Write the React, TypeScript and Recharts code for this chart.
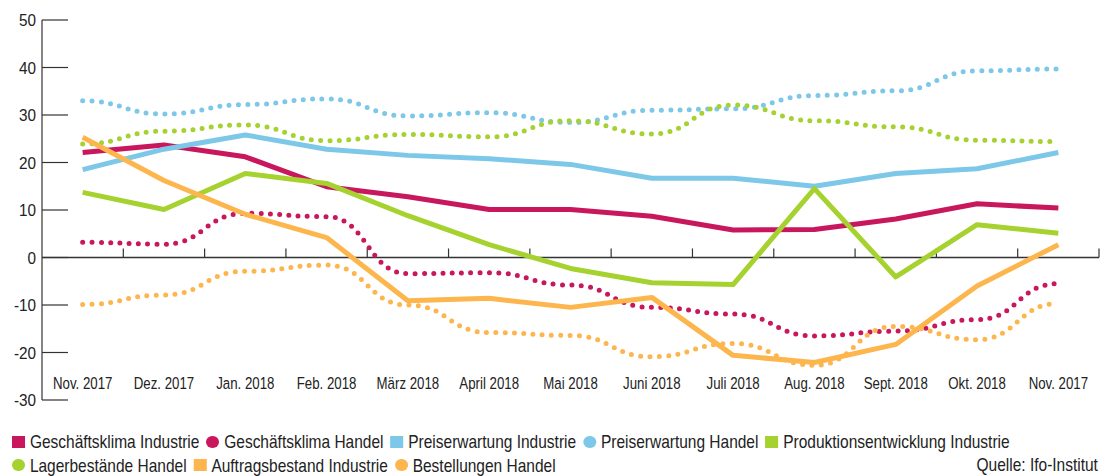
import React from "react";
import { LineChart, Line, XAxis, YAxis, ReferenceLine } from "recharts";

const months = [
  "Nov. 2017", "Dez. 2017", "Jan. 2018", "Feb. 2018", "März 2018", "April 2018", "Mai 2018",
  "Juni 2018", "Juli 2018", "Aug. 2018", "Sept. 2018", "Okt. 2018", "Nov. 2017",
];
const yTicks = [-30, -20, -10, 0, 10, 20, 30, 40, 50];

const geschaeftsklimaIndustrie = [22.1, 23.7, 21.2, 14.9, 12.8, 10.1, 10.1, 8.7, 5.8, 5.9, 8.1, 11.3, 10.4];
const geschaeftsklimaHandel = [3.2, 2.8, 9.3, 8.6, -3.4, -3.2, -5.8, -10.5, -11.9, -16.5, -15.5, -13.1, -5.5];
const preiserwartungIndustrie = [18.5, 22.8, 25.8, 22.8, 21.5, 20.8, 19.6, 16.7, 16.7, 15.0, 17.7, 18.7, 22.1];
const preiserwartungHandel = [33.0, 30.2, 32.2, 33.4, 29.8, 30.5, 28.4, 31.0, 31.3, 34.1, 35.1, 39.3, 39.7];
const produktionsentwicklungIndustrie = [13.7, 10.1, 17.7, 15.6, 8.8, 2.7, -2.3, -5.3, -5.7, 14.5, -4.1, 6.9, 5.1];
const lagerbestaendeHandel = [23.9, 26.6, 27.9, 24.6, 25.9, 25.4, 28.8, 26.0, 32.1, 28.8, 27.5, 24.7, 24.4];
const auftragsbestandIndustrie = [25.3, 16.2, 9.1, 4.2, -9.1, -8.6, -10.5, -8.4, -20.6, -22.1, -18.3, -6.0, 2.7];
const bestellungenHandel = [-9.9, -7.9, -2.9, -1.6, -10.0, -15.8, -16.4, -20.9, -18.1, -22.7, -14.5, -17.3, -9.7];

const sourceText = "Quelle: Ifo-Institut";

const CRIMSON = "#C8175D";
const BLUE = "#7DC8E8";
const GREEN = "#A5D22F";
const ORANGE = "#FDB64E";

type S = { key: string; name: string; values: number[]; color: string; dotted: boolean };
const series: S[] = [
  { key: "gkI", name: "Geschäftsklima Industrie", values: geschaeftsklimaIndustrie, color: CRIMSON, dotted: false },
  { key: "gkH", name: "Geschäftsklima Handel", values: geschaeftsklimaHandel, color: CRIMSON, dotted: true },
  { key: "peI", name: "Preiserwartung Industrie", values: preiserwartungIndustrie, color: BLUE, dotted: false },
  { key: "peH", name: "Preiserwartung Handel", values: preiserwartungHandel, color: BLUE, dotted: true },
  { key: "prI", name: "Produktionsentwicklung Industrie", values: produktionsentwicklungIndustrie, color: GREEN, dotted: false },
  { key: "lbH", name: "Lagerbestände Handel", values: lagerbestaendeHandel, color: GREEN, dotted: true },
  { key: "abI", name: "Auftragsbestand Industrie", values: auftragsbestandIndustrie, color: ORANGE, dotted: false },
  { key: "beH", name: "Bestellungen Handel", values: bestellungenHandel, color: ORANGE, dotted: true },
];

const data = months.map((m, i) => {
  const row: Record<string, number | string> = { i, month: m };
  series.forEach((s) => (row[s.key] = s.values[i]));
  return row;
});

const FONT = "'Liberation Sans', Arial, sans-serif";
const TEXT = "#222";
const LEG_SQUEEZE = 0.815;

const YTick = (props: any) => {
  const { x, y, payload } = props;
  return (
    <g>
      <text
        transform={`translate(${x},${y + 6}) scale(0.9,1)`}
        x={0}
        y={0}
        textAnchor="end"
        fontSize={17}
        fill={TEXT}
        fontFamily={FONT}
      >
        {payload.value}
      </text>
      <line x1={x + 6} x2={x + 32} y1={y} y2={y} stroke="#333" strokeWidth={1.2} />
    </g>
  );
};

const XTick = (props: any) => {
  const { x, y, payload } = props;
  return (
    <text
      transform={`translate(${x},${y - 11}) scale(0.78,1)`}
      x={0}
      y={0}
      textAnchor="middle"
      fontSize={17}
      fill={TEXT}
      fontFamily={FONT}
    >
      {months[payload.value]}
    </text>
  );
};

const LegendItem = ({ s }: { s: S }) => (
  <span style={{ display: "inline-flex", alignItems: "center", marginRight: 8.5, whiteSpace: "nowrap" }}>
    <span
      style={{
        display: "inline-block",
        width: 13 / LEG_SQUEEZE,
        height: 12.5,
        background: s.color,
        borderRadius: s.dotted ? "50%" : 0,
        marginRight: 6,
      }}
    />
    <span>{s.name}</span>
  </span>
);

export default function App() {
  const row1 = series.slice(0, 5);
  const row2 = series.slice(5);
  return (
    <div style={{ position: "absolute", left: 0, top: 0, width: 1100, height: 476, background: "#fff", overflow: "hidden" }}>
      <LineChart width={1100} height={476} data={data} margin={{ top: 20, right: 1, left: 0, bottom: 75 }}>
        <XAxis
          dataKey="i"
          type="number"
          domain={[-0.5, 12.5]}
          ticks={months.map((_, i) => i)}
          axisLine={false}
          tickLine={false}
          tickSize={0}
          tickMargin={0}
          height={1}
          interval={0}
          tick={<XTick />}
        />
        <YAxis
          type="number"
          domain={[-30, 50]}
          ticks={yTicks}
          width={42}
          tickSize={0}
          tickMargin={6}
          tickLine={false}
          axisLine={{ stroke: "#333", strokeWidth: 1.2 }}
          tick={<YTick />}
          interval={0}
        />
        <ReferenceLine y={0} stroke="#333" strokeWidth={1.5} />
        {months.map((_, k) => (
          <ReferenceLine
            key={"t" + k}
            segment={[
              { x: k + 0.5, y: 0 },
              { x: k + 0.5, y: 1.9 },
            ]}
            stroke="#333"
            strokeWidth={1.2}
            ifOverflow="visible"
          />
        ))}
        {series.map((s) =>
          s.dotted ? (
            <Line
              key={s.key}
              dataKey={s.key}
              type="bumpX"
              stroke={s.color}
              strokeWidth={5}
              strokeDasharray="0 9.3"
              strokeLinecap="round"
              dot={false}
              activeDot={false}
              isAnimationActive={false}
            />
          ) : (
            <Line
              key={s.key}
              dataKey={s.key}
              type="linear"
              stroke={s.color}
              strokeWidth={5}
              strokeLinejoin="round"
              dot={false}
              activeDot={false}
              isAnimationActive={false}
            />
          )
        )}
      </LineChart>
      <div
        style={{
          position: "absolute",
          left: 12,
          top: 430,
          width: 1400,
          fontFamily: FONT,
          fontSize: 19,
          color: TEXT,
          lineHeight: "23px",
          transform: `scaleX(${LEG_SQUEEZE})`,
          transformOrigin: "0 0",
        }}
      >
        <div style={{ whiteSpace: "nowrap" }}>
          {row1.map((s) => (
            <LegendItem key={s.key} s={s} />
          ))}
        </div>
        <div style={{ whiteSpace: "nowrap" }}>
          {row2.map((s) => (
            <LegendItem key={s.key} s={s} />
          ))}
        </div>
      </div>
      <div
        style={{
          position: "absolute",
          right: 2,
          top: 453,
          fontFamily: FONT,
          fontSize: 19,
          color: TEXT,
          lineHeight: "23px",
          whiteSpace: "nowrap",
          transform: `scaleX(${LEG_SQUEEZE})`,
          transformOrigin: "100% 0",
        }}
      >
        {sourceText}
      </div>
    </div>
  );
}
